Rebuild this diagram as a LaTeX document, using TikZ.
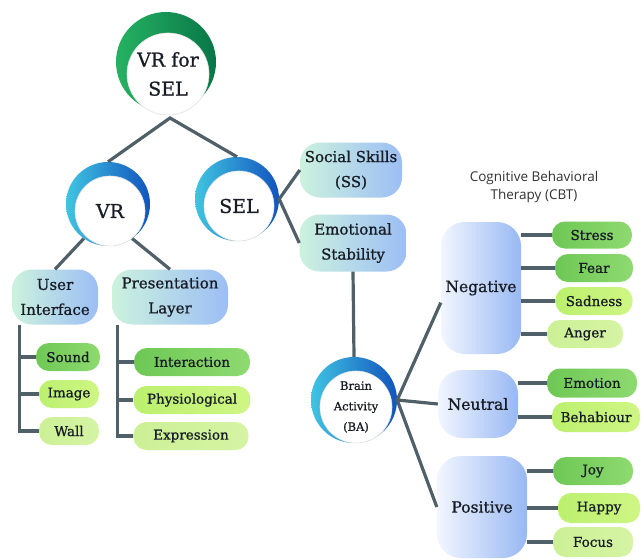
\documentclass[tikz,border=0pt]{standalone}
\usepackage{fontspec}
\usepackage{xcolor}
\usepackage{tikz}
\usetikzlibrary{positioning,calc}

\newfontfamily\lblfont{DejaVu Serif}[FakeBold=0.9]
\newfontfamily\cbtfont{Open Sans}

\definecolor{rootL}{RGB}{38,178,98}
\definecolor{rootR}{RGB}{8,118,72}
\definecolor{ringL}{RGB}{64,196,226}
\definecolor{ringR}{RGB}{18,84,190}
\definecolor{boxL}{RGB}{204,242,222}
\definecolor{boxR}{RGB}{156,190,245}
\definecolor{catL}{RGB}{242,246,255}
\definecolor{catR}{RGB}{152,184,243}
\definecolor{gA1}{RGB}{110,200,85}
\definecolor{gA2}{RGB}{142,218,112}
\definecolor{gB1}{RGB}{188,240,110}
\definecolor{gB2}{RGB}{206,246,132}
\definecolor{gC1}{RGB}{204,240,150}
\definecolor{gC2}{RGB}{214,244,164}
\definecolor{ink}{RGB}{24,28,36}
\definecolor{wire}{RGB}{80,96,104}

\begin{document}
\begin{tikzpicture}[
    x=1pt, y=-1pt,
    every node/.style = {text=ink, align=center, inner sep=0pt, font=\lblfont},
    greenring/.style  = {circle, minimum size=100pt, left color=rootL, right color=rootR},
    bluering/.style   = {circle, minimum size=84pt, left color=ringL, right color=ringR},
    core/.style       = {circle, fill=white, draw=black!12, line width=0.6pt},
    topbox/.style     = {rectangle, rounded corners=20pt, minimum height=55pt,
                          left color=boxL, right color=boxR,
                          font=\lblfont\fontsize{15}{25}\selectfont},
    catbox/.style     = {rectangle, rounded corners=24pt, minimum width=80pt,
                          left color=catL, right color=catR,
                          font=\lblfont\fontsize{15.5}{18}\selectfont},
    leaf/.style       = {rectangle, rounded corners=13pt, minimum height=28pt,
                          font=\lblfont\fontsize{13.5}{15}\selectfont},
    leafA/.style      = {leaf, left color=gA1, right color=gA2},
    leafB/.style      = {leaf, left color=gB1, right color=gB2},
    leafC/.style      = {leaf, left color=gC1, right color=gC2},
    conn/.style       = {draw=wire, line width=3.2pt},
    note/.style       = {font=\cbtfont\fontsize{13.5}{18.5}\selectfont, text=black!80},
]

\fill[white] (0,0) rectangle (644,559);

% Root: VR for SEL
\node[greenring] (rootout) at (166,62) {};
\node[core, minimum size=82pt, font=\lblfont\fontsize{19}{29}\selectfont]
    (root) at (168,74) {VR for\\SEL};

% Second level: VR and SEL rings
\node[bluering] (vrout) at (108,204) {};
\node[core, minimum size=70pt, font=\lblfont\fontsize{19}{22}\selectfont]
    (vr) at (110,211) {VR};
\node[bluering] (selout) at (237,199) {};
\node[core, minimum size=70pt, font=\lblfont\fontsize{19}{22}\selectfont]
    (sel) at (239,206) {SEL};

\coordinate (apex) at (170,118);
\draw[conn] (vrout.north) -- (apex) -- (selout.north);

% VR branch: user interface and presentation layer
\node[topbox, minimum width=86pt]  (ui) at (55,297)  {User\\Interface};
\node[topbox, minimum width=116pt] (pl) at (170,297) {Presentation\\Layer};
\draw[conn] (vrout.235) -- (ui.north);
\draw[conn] (vrout.305) -- (pl.north);

\node[leafA, minimum width=64pt] (sound) at (68,357) {Sound};
\node[leafB, minimum width=60pt] (image) at (69,394) {Image};
\node[leafC, minimum width=60pt] (wall)  at (69,431) {Wall};
\coordinate (uitrunk) at ([xshift=8pt]ui.south west);
\draw[conn] (uitrunk) |- (wall.west);
\draw[conn] (sound.west) -- (sound.west -| uitrunk);
\draw[conn] (image.west) -- (image.west -| uitrunk);

\node[leafA, minimum width=116pt] (interact) at (192,362) {Interaction};
\node[leafB, minimum width=117pt] (physio)   at (192,400) {Physiological};
\node[leafC, minimum width=115pt] (express)  at (191,436) {Expression};
\coordinate (pltrunk) at ([xshift=6pt]pl.south west);
\draw[conn] (pltrunk) |- (express.west);
\draw[conn] (interact.west) -- (interact.west -| pltrunk);
\draw[conn] (physio.west) -- (physio.west -| pltrunk);

% SEL branch: social skills, emotional stability, brain activity
\node[topbox, minimum width=102pt] (ss) at (351,170) {Social Skills\\(SS)};
\node[topbox, minimum width=107pt, minimum height=57pt] (es) at (353,243) {Emotional\\Stability};
\draw[conn] (ss.west) -- (selout.east) -- (es.west);

\node[bluering, minimum size=86pt] (baout) at (354,400) {};
\node[core, minimum size=72pt, font=\lblfont\fontsize{11.5}{20.5}\selectfont]
    (ba) at (356,407) {Brain\\Activity\\(BA)};
\draw[conn] (es.south) -- (baout.north);

% CBT categories
\node[note] (cbt) at (534,187) {Cognitive Behavioral\\Therapy (CBT)};

\node[catbox, minimum height=132pt] (neg) at (481,288) {Negative};
\node[catbox, minimum height=68pt]  (neu) at (478,404) {Neutral};
\node[catbox, minimum width=90pt, minimum height=102pt] (pos) at (482,507) {Positive};
\draw[conn] (neg.200) -- (baout.east) -- (pos.west);
\draw[conn] (baout.east) -- (neu.west);

% Leaves of each category
\node[leafA, minimum width=80pt, minimum height=27pt] (stress) at (592,235) {Stress};
\node[leafA, minimum width=78pt] (fear)    at (594,268) {Fear};
\node[leafB, minimum width=77pt] (sadness) at (594,301) {Sadness};
\node[leafC, minimum width=76pt] (anger)   at (585,334) {Anger};
\foreach \n in {stress, fear, sadness, anger} {
    \draw[conn] (\n.west) -- (\n.west -| neg.east);
}

\node[leafA, minimum width=90pt, minimum height=29pt] (emotion) at (592,383) {Emotion};
\node[leafB, minimum width=88pt, minimum height=30pt] (behav)   at (596,417) {Behabiour};
\foreach \n in {emotion, behav} {
    \draw[conn] (\n.west) -- (\n.west -| neu.east);
}

\node[leafA, minimum width=80pt] (joy)   at (593,471) {Joy};
\node[leafB, minimum width=82pt, minimum height=30pt] (happy) at (599,508) {Happy};
\node[leafC, minimum width=80pt, minimum height=30pt] (focus) at (593,542) {Focus};
\foreach \n in {joy, happy, focus} {
    \draw[conn] (\n.west) -- (\n.west -| pos.east);
}

\end{tikzpicture}
\end{document}
